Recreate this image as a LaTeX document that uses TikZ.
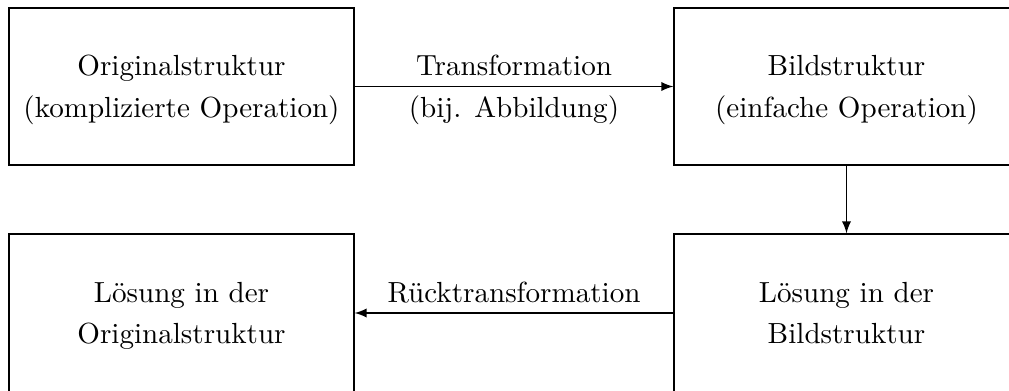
\documentclass[tikz,border=0pt]{standalone}
\usepackage{fontspec}
\usetikzlibrary{arrows}
\begin{document}
\begin{tikzpicture}[x=0.3438pt,y=-0.3438pt,
  box/.style={draw,rectangle,inner sep=0pt,minimum width=118.6pt,minimum height=54pt},
  lowbox/.style={box,minimum height=56pt},
  txt/.style={anchor=base,inner sep=0pt,font=\fontsize{10}{12}\selectfont},
  conn/.style={-latex,line width=0.45pt}]
\useasboundingbox (0,0) rectangle (1009,390);
\clip (0,0) rectangle (1009,390);
\node[box] (orig) at (181.5,86.5) {};
\node[box] (bild) at (846.5,86.5) {};
\node[lowbox] (losorig) at (181.5,315.4) {};
\node[lowbox] (losbild) at (846.5,315.4) {};
\draw[conn] (orig.east) -- (bild.west);
\draw[conn] (bild.south) -- (losbild.north);
\draw[conn] (losbild.west |- 0,313) -- (losorig.east |- 0,313);
\node[txt] (t1) at (181.5,75) {Originalstruktur};
\node[txt] (t2) at (181.5,117) {(komplizierte Operation)};
\node[txt] (t3) at (514,75) {Transformation};
\node[txt] (t4) at (514,117) {(bij. Abbildung)};
\node[txt] (t5) at (846.5,75) {Bildstruktur};
\node[txt] (t6) at (846.5,117) {(einfache Operation)};
\node[txt] (t7) at (181.5,302) {Lösung in der};
\node[txt] (t8) at (181.5,343) {Originalstruktur};
\node[txt] (t9) at (514,302) {Rücktransformation};
\node[txt] (t10) at (846.5,302) {Lösung in der};
\node[txt] (t11) at (846.5,343) {Bildstruktur};
\end{tikzpicture}
\end{document}
